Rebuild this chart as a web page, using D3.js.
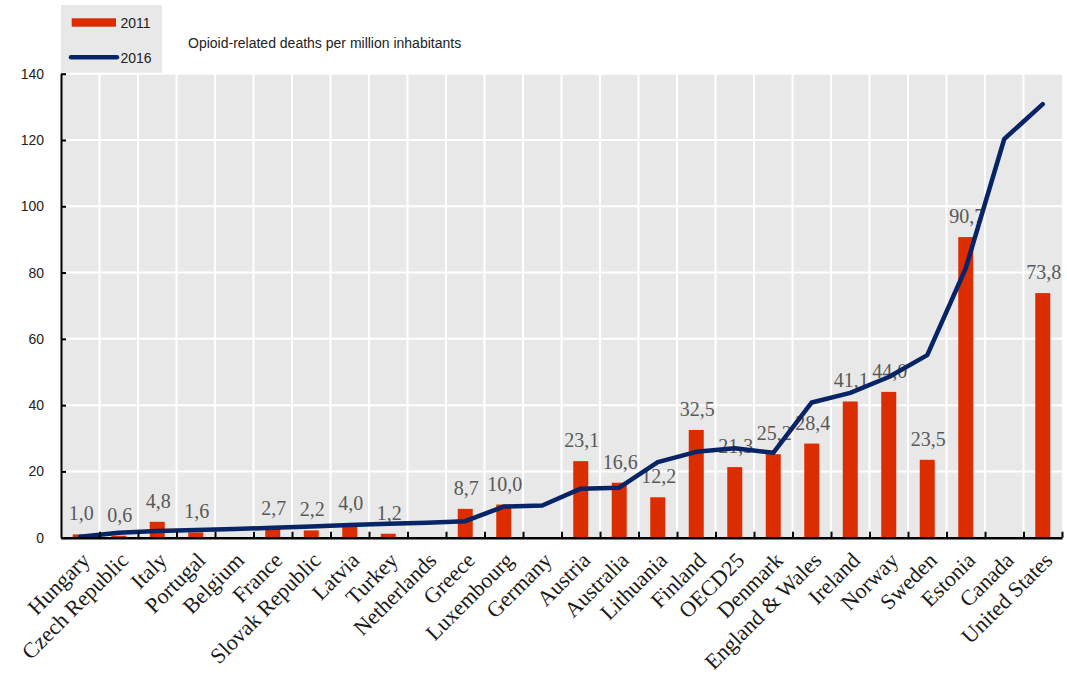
<!DOCTYPE html>
<html>
<head>
<meta charset="utf-8">
<script src="https://cdn.jsdelivr.net/npm/d3@7"></script>
<style>
  html, body { margin: 0; padding: 0; background: #ffffff; }
  svg { display: block; }
</style>
</head>
<body>
<svg id="chart" width="1067" height="684"></svg>
<script>
const categories = ["Hungary","Czech Republic","Italy","Portugal","Belgium","France","Slovak Republic","Latvia","Turkey","Netherlands","Greece","Luxembourg","Germany","Austria","Australia","Lithuania","Finland","OECD25","Denmark","England & Wales","Ireland","Norway","Sweden","Estonia","Canada","United States"];
const values2011 = [1.0,0.6,4.8,1.6,null,2.7,2.2,4.0,1.2,null,8.7,10.0,null,23.1,16.6,12.2,32.5,21.3,25.2,28.4,41.1,44.0,23.5,90.7,null,73.8];
const values2016 = [0.3,1.5,2.0,2.3,2.6,3.0,3.4,3.8,4.2,4.5,5.0,9.4,9.7,14.8,15.1,22.8,25.9,27.0,25.6,40.8,43.7,48.5,55.1,81.3,120.3,130.8];
const labels2011 = ["1,0","0,6","4,8","1,6","","2,7","2,2","4,0","1,2","","8,7","10,0","","23,1","16,6","12,2","32,5","21,3","25,2","28,4","41,1","44,0","23,5","90,7","","73,8"];
const yTicks = [0,20,40,60,80,100,120,140];
const seriesNames = ["2011","2016"];
const chartTitle = "Opioid-related deaths per million inhabitants";

const barColor = "#dc2d00";
const lineColor = "#062466";
const bgColor = "#e8e8e8";
const sans = "'Liberation Sans', Arial, sans-serif";
const serif = "'Liberation Serif', 'Times New Roman', serif";

const svg = d3.select("#chart");
const pLeft = 61, pRight = 1062, pTop = 73.7, pBottom = 537.7;

const x = d3.scaleBand().domain(categories).range([pLeft, pRight]).paddingInner(0).paddingOuter(0);
const xIdx = d3.scaleLinear().domain([0, categories.length]).range([pLeft, pRight]);
const y = d3.scaleLinear().domain([0, 140]).range([pBottom, pTop]);

// legend background + plot background
svg.append("rect").attr("x", pLeft).attr("y", 5).attr("width", 101).attr("height", pTop - 5 + 1).attr("fill", bgColor);
svg.append("rect").attr("x", pLeft).attr("y", pTop).attr("width", pRight - pLeft).attr("height", pBottom - pTop).attr("fill", bgColor);

// grid
svg.append("g").selectAll("line").data(yTicks.filter(t => t > 0)).join("line")
  .attr("x1", pLeft).attr("x2", pRight).attr("y1", d => y(d)).attr("y2", d => y(d))
  .attr("stroke", "#ffffff").attr("stroke-width", 2);
svg.append("g").selectAll("line").data(d3.range(1, categories.length)).join("line")
  .attr("x1", d => xIdx(d)).attr("x2", d => xIdx(d)).attr("y1", pTop).attr("y2", pBottom)
  .attr("stroke", "#ffffff").attr("stroke-width", 2);

// bars
const bw = 15;
const barData = categories.map((c, i) => ({c, v: values2011[i], lab: labels2011[i]})).filter(d => d.v != null);
svg.append("g").selectAll("rect").data(barData).join("rect")
  .attr("x", d => x(d.c) + x.bandwidth() / 2 - bw / 2)
  .attr("width", bw)
  .attr("y", d => y(d.v))
  .attr("height", d => y(0) - y(d.v))
  .attr("fill", barColor);

// value labels
svg.append("g").selectAll("text").data(barData).join("text")
  .attr("x", d => x(d.c) + x.bandwidth() / 2 + 1)
  .attr("y", d => y(d.v) - 14)
  .attr("text-anchor", "middle")
  .style("font-family", serif).style("font-size", "20px").attr("fill", "#595959")
  .text(d => d.lab);

// line
const lineData = categories.map((c, i) => ({c, v: values2016[i]}));
svg.append("path").datum(lineData)
  .attr("fill", "none").attr("stroke", lineColor).attr("stroke-width", 4.5)
  .attr("stroke-linejoin", "round").attr("stroke-linecap", "round")
  .attr("d", d3.line().x(d => x(d.c) + x.bandwidth() / 2).y(d => y(d.v)));

// y axis
const yAxis = svg.append("g").attr("transform", `translate(${pLeft},0)`)
  .call(d3.axisLeft(y).tickValues(yTicks).tickSize(-5).tickSizeOuter(0).tickPadding(17));
yAxis.select(".domain").attr("stroke", "#000").attr("stroke-width", 2);
yAxis.selectAll(".tick line").attr("stroke", "#000").attr("stroke-width", 2);
yAxis.selectAll("text").style("font-family", sans).style("font-size", "14px").attr("fill", "#222");

// x axis ticks (category boundaries)
const xTickAxis = svg.append("g").attr("transform", `translate(0,${pBottom})`)
  .call(d3.axisBottom(xIdx).tickValues(d3.range(1, categories.length + 1)).tickSize(-6).tickSizeOuter(0).tickFormat(""));
xTickAxis.select(".domain").attr("stroke", "#000").attr("stroke-width", 2.5);
xTickAxis.selectAll(".tick line").attr("stroke", "#000").attr("stroke-width", 2);

// category labels
const xAxis = svg.append("g").attr("transform", `translate(0,${pBottom})`)
  .call(d3.axisBottom(x).tickSize(0));
xAxis.select(".domain").remove();
xAxis.selectAll("text")
  .attr("x", 0).attr("y", 0).attr("dy", "0")
  .attr("transform", "translate(11,24) rotate(-45)")
  .style("text-anchor", "end")
  .style("font-family", serif).style("font-size", "22px").attr("fill", "#1a1a1a");

// legend
svg.append("rect").attr("x", 71.7).attr("y", 18.3).attr("width", 44.3).attr("height", 8.4).attr("fill", barColor);
svg.append("line").attr("x1", 71).attr("x2", 117).attr("y1", 57.3).attr("y2", 57.3)
  .attr("stroke", lineColor).attr("stroke-width", 4.5).attr("stroke-linecap", "round");
svg.append("g").selectAll("text").data(seriesNames).join("text")
  .attr("x", 120.5).attr("y", (d, i) => i === 0 ? 28.3 : 63.3)
  .style("font-family", sans).style("font-size", "14px").attr("fill", "#222")
  .text(d => d);

// title
svg.append("text").attr("x", 188).attr("y", 48.3)
  .style("font-family", sans).style("font-size", "14px").attr("fill", "#222")
  .text(chartTitle);
</script>
</body>
</html>
